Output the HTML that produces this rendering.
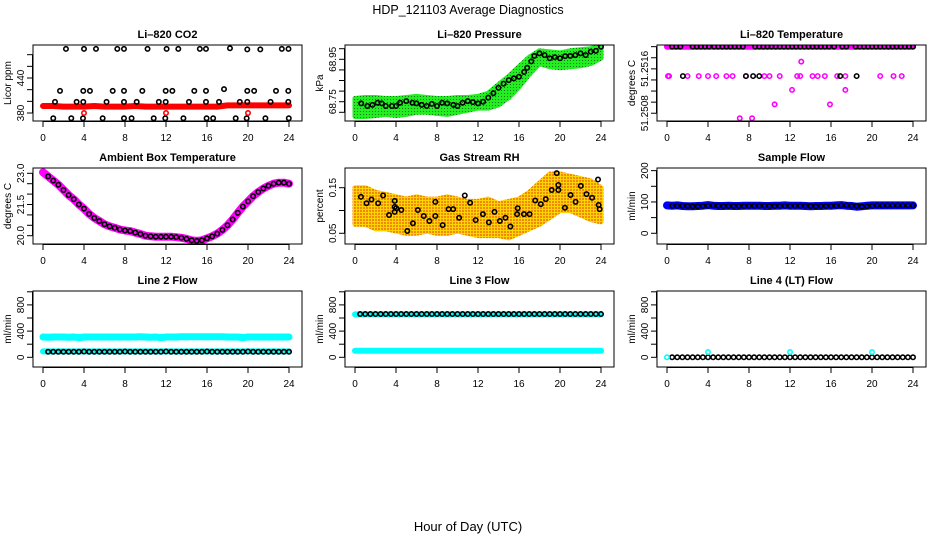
<!DOCTYPE html>
<html><head><meta charset="utf-8"><style>
html,body{margin:0;padding:0;background:#fff;}
svg{display:block;font-family:"Liberation Sans",sans-serif;}
</style></head><body>
<svg id="chart" width="936" height="540" xmlns="http://www.w3.org/2000/svg">
<defs>
<pattern id="rhPat" width="3" height="3" patternUnits="userSpaceOnUse"><rect width="3" height="3" fill="#ffd400"/><rect width="2" height="2" fill="#f08a00"/></pattern>
<pattern id="presPat" width="3" height="3" patternUnits="userSpaceOnUse"><rect width="3" height="3" fill="#22ee22"/><rect width="1" height="1" fill="#117711"/></pattern>
</defs>
<text x="468" y="14" text-anchor="middle" font-size="12.5">HDP_121103  Average Diagnostics</text>
<text x="468" y="531" text-anchor="middle" font-size="13">Hour of Day (UTC)</text>
</svg>
<script>
// ---- data ----
const xTicks = [0,4,8,12,16,20,24];
// CO2
const co2BlackHours = [2.24,4.0,5.17,7.25,7.9,10.2,12.06,13.2,15.3,15.9,18.24,19.93,21.2,23.3,23.95, 1.66,3.93,4.58,6.8,7.9,9.69,11.97,12.62,14.76,15.9,19.93,20.6,22.73,23.93, 1.17,3.28,3.93,6.2,7.9,9.14,11.3,11.97,14.24,15.9,17.17,19.2,19.93,22.2,23.93, 1.0,2.76,3.9,5.82,7.9,8.64,10.8,11.93,13.7,15.96,16.6,18.8,19.87,21.7,23.98,17.66];
const co2BlackValues = [490,490,490,490,490,490,490,490,490,490,491,489,489,490,490, 418,418,418,418,418,418,418,418,418,418,418,418,418,418, 399,399,399,399,399,399,399,399,399,399,399,399,399,399,399, 371,371,371,371,371,371,371,371,371,371,371,371,371,371,371,421];
const co2BandHours = [0,1,2,3,4,5,6,7,8,9,10,11,12,13,14,15,16,17,18,19,20,21,22,23,24];
const co2BandValues = [392,392,391,391,391,392,391,391,391,392,391,391,391,391,391,391,391,391,393,393,393,393,393,393,393];
const co2RedHours = [4,12,20];
const co2RedValues = [380,380,380];
// Pressure
const hourly = [0,1,2,3,4,5,6,7,8,9,10,11,12,13,14,15,16,17,18,19,20,21,22,23,24];
const presUpper = [68.765,68.77,68.77,68.765,68.765,68.77,68.775,68.77,68.765,68.765,68.77,68.77,68.775,68.79,68.83,68.87,68.915,68.96,68.99,68.985,68.98,68.99,68.995,69.0,69.015];
const presLower = [68.68,68.68,68.685,68.69,68.685,68.69,68.7,68.7,68.695,68.69,68.7,68.71,68.72,68.72,68.735,68.77,68.82,68.88,68.93,68.915,68.91,68.915,68.92,68.93,68.955];
const presBlackHours = [0.6,1.2,1.7,2.2,2.6,3.0,3.6,4.0,4.4,5.0,5.6,6.0,6.5,7.0,7.5,8.0,8.5,9.0,9.6,10.0,10.5,11.0,11.5,12.0,12.5,13.0,13.5,14.0,14.5,15.0,15.5,16.0,16.5,16.8,17.2,17.5,18.0,18.5,19.0,19.5,20.0,20.5,21.0,21.5,22.0,22.5,23.0,23.5,24.0];
const presBlackValues = [68.742,68.73,68.735,68.745,68.742,68.73,68.73,68.73,68.745,68.753,68.745,68.742,68.735,68.73,68.74,68.73,68.745,68.742,68.735,68.73,68.745,68.753,68.748,68.742,68.75,68.769,68.79,68.816,68.835,68.852,68.86,68.868,68.89,68.91,68.94,68.966,68.978,68.97,68.955,68.96,68.955,68.965,68.966,68.97,68.978,68.97,68.986,68.99,69.009];
// Li-820 temperature
const tempTopHours = [0.5,0.9,1.3,2.5,2.9,3.3,3.7,4.1,4.6,5.0,5.4,5.8,6.2,6.6,7.0,7.4,8.6,9.0,9.4,9.8,10.2,10.6,11.0,11.4,11.8,12.2,12.6,13.0,13.4,13.8,14.2,14.6,15.0,15.4,15.8,16.3,17.1,17.5,18.4,18.8,19.2,19.6,20.0,20.4,20.8,21.2,21.6,22.0,22.4,22.8,23.2,23.6,24.0];
const tempTopValues = [51.2520,51.2520,51.2520,51.2520,51.2520,51.2520,51.2520,51.2520,51.2520,51.2520,51.2520,51.2520,51.2520,51.2520,51.2520,51.2520,51.2520,51.2520,51.2520,51.2520,51.2520,51.2520,51.2520,51.2520,51.2520,51.2520,51.2520,51.2520,51.2520,51.2520,51.2520,51.2520,51.2520,51.2520,51.2520,51.2520,51.2520,51.2520,51.2520,51.2520,51.2520,51.2520,51.2520,51.2520,51.2520,51.2520,51.2520,51.2520,51.2520,51.2520,51.2520,51.2520,51.2520];
const tempBandHours = [0,24];
const tempBandValues = [51.2520,51.2520];
const tempMagHours = [0.1,0.2,2.0,3.1,4.0,4.8,5.8,6.4,7.7,9.5,10.0,11.0,12.7,13.0,14.2,14.7,15.4,16.6,17.4,20.8,22.1,22.9, 13.1,12.2,17.4,10.5,15.9,7.1,8.3];
const tempMagValues = [51.25147,51.25147,51.25147,51.25147,51.25147,51.25147,51.25147,51.25147,51.25147,51.25147,51.25147,51.25147,51.25147,51.25147,51.25147,51.25147,51.25147,51.25147,51.25147,51.25147,51.25147,51.25147, 51.25173,51.25122,51.25122,51.25096,51.25096,51.25071,51.25071];
const tempBlackHours = [1.55,7.7,8.4,9.0,16.9,18.5];
const tempBlackValues = [51.25147,51.25147,51.25147,51.25147,51.25147,51.25147];
// Ambient box temperature
const ambHours = [0,0.5,1,1.5,2,2.5,3,3.5,4,4.5,5,5.5,6,6.5,7,7.5,8,8.5,9,9.5,10,10.5,11,11.5,12,12.5,13,13.5,14,14.5,15,15.5,16,16.5,17,17.5,18,18.5,19,19.5,20,20.5,21,21.5,22,22.5,23,23.5,24];
const ambValues = [23.05,22.85,22.65,22.45,22.2,21.95,21.75,21.5,21.3,21.05,20.85,20.7,20.55,20.45,20.38,20.3,20.25,20.22,20.15,20.08,20.0,19.97,19.95,19.95,19.95,19.95,19.93,19.9,19.85,19.78,19.75,19.78,19.87,19.97,20.1,20.28,20.5,20.78,21.1,21.4,21.65,21.9,22.1,22.27,22.4,22.5,22.55,22.55,22.5];
// Gas stream RH
const rhUpper = [0.15,0.15,0.14,0.135,0.13,0.125,0.13,0.125,0.125,0.13,0.125,0.12,0.12,0.125,0.115,0.12,0.125,0.14,0.16,0.18,0.18,0.175,0.17,0.165,0.15];
const rhLower = [0.07,0.07,0.06,0.06,0.055,0.05,0.05,0.055,0.05,0.05,0.055,0.05,0.045,0.045,0.045,0.04,0.05,0.06,0.07,0.085,0.1,0.1,0.09,0.08,0.075];
const rhBlackHours = [0.58,1.13,1.61,2.26,2.74,3.32,3.87,3.87,3.87,4.03,4.52,5.1,5.65,6.13,6.71,7.26,7.84,7.84,8.55,9.13,9.58,10.16,10.71,11.23,11.77,12.48,13.06,13.61,14.13,14.68,15.16,15.81,15.87,16.48,17.03,17.58,18.13,18.61,19.19,19.68,19.84,19.84,20.48,21.03,21.52,22.03,22.58,23.13,23.71,23.77,23.87];
const rhBlackValues = [0.130,0.116,0.124,0.116,0.133,0.090,0.121,0.108,0.097,0.105,0.101,0.055,0.072,0.101,0.088,0.077,0.119,0.088,0.068,0.103,0.103,0.084,0.133,0.117,0.079,0.092,0.074,0.097,0.077,0.084,0.065,0.092,0.105,0.092,0.092,0.122,0.114,0.125,0.145,0.182,0.145,0.156,0.106,0.134,0.119,0.154,0.136,0.128,0.168,0.112,0.103];
// Flows
const flowHours = [0.5,1,1.5,2,2.5,3,3.5,4,4.5,5,5.5,6,6.5,7,7.5,8,8.5,9,9.5,10,10.5,11,11.5,12,12.5,13,13.5,14,14.5,15,15.5,16,16.5,17,17.5,18,18.5,19,19.5,20,20.5,21,21.5,22,22.5,23,23.5,24];
const sampleBand = [89,88,89,87,86,86,87,88,90,88,87,87,88,87,87,88,88,88,88,87,87,88,88,89,88,88,88,87,86,87,87,88,88,89,90,88,87,85,86,88,89,89,89,89,89,89,89,89,89];
const sampleBlack = [88,88,88,87,86,86,87,88,89,88,87,87,87,87,87,88,88,88,88,87,87,88,88,88,88,88,88,87,86,87,87,88,88,89,89,88,87,85,86,88,89,89,89,89,89,89,89,89];
const line2Upper = [310,305,310,310,310,305,310,300,310,310,310,310,310,310,310,310,310,310,310,315,310,305,310,300,310,310,310,315,315,315,315,315,315,315,315,315,310,310,310,300,310,310,310,310,310,310,310,310,310];
const line2Lower = [90,90,90,90,90,90,90,90,90,90,90,90,90,90,90,90,90,90,90,90,90,90,90,90,90,90,90,90,90,90,90,90,90,90,90,90,90,90,90,90,90,90,90,90,90,90,90,90,90];
const line2Black = [85,85,85,85,85,85,85,88,85,85,85,85,85,85,85,88,85,85,85,85,85,85,85,88,85,85,85,85,85,85,85,88,85,85,85,85,85,85,85,88,85,85,85,85,85,85,85,85];
const line3Upper = [655,655,655,655,655,655,655,655,655,655,655,655,655,655,655,655,655,655,655,655,655,655,655,655,655,655,655,655,655,655,655,655,655,655,655,655,655,655,655,655,655,655,655,655,655,655,655,655,655];
const line3Lower = [100,100,100,100,100,100,100,100,100,100,100,100,100,100,100,100,100,100,100,100,100,100,100,100,100,100,100,100,100,100,100,100,100,100,100,100,100,100,100,100,100,100,100,100,100,100,100,100,100];
const line3Black = [660,660,660,660,660,660,660,660,660,660,660,660,660,660,660,660,660,660,660,660,660,660,660,660,660,660,660,660,660,660,660,660,660,660,660,660,660,660,660,660,660,660,660,660,660,660,660,660];
const line4Black = [0,0,0,0,0,0,0,0,0,0,0,0,0,0,0,0,0,0,0,0,0,0,0,0,0,0,0,0,0,0,0,0,0,0,0,0,0,0,0,0,0,0,0,0,0,0,0,0];
const line4CyanHours = [0,4,12,20];
const line4CyanValues = [0,80,80,80];

// ---- drawing ----
const NS = "http://www.w3.org/2000/svg";
const svg = document.getElementById('chart');
function mk(tag, attrs, parent){
  const e = document.createElementNS(NS, tag);
  for (const k in attrs) e.setAttribute(k, attrs[k]);
  (parent||svg).appendChild(e);
  return e;
}
function panel(c, r, o){
  const g = mk('g', {});
  
  
  const bx0 = 33 + 312*c, bx1 = 302 + 312*c, by0 = 45 + 123*r, by1 = 121 + 123*r;
  const xs = h => 43 + 312*c + h*10.25;
  const ys = v => by1 - (v - o.ymin)/(o.ymax - o.ymin)*76;
  const t = mk('text', {x:(bx0+bx1)/2, y:by0-7, 'text-anchor':'middle', 'font-size':11, 'font-weight':'bold'}, g);
  t.textContent = o.title;
  
  
  const yl = mk('text', {x:0, y:0, transform:`translate(${11+312*c},${(by0+by1)/2}) rotate(-90)`, 'text-anchor':'middle', 'font-size':10}, g);
  yl.textContent = o.ylab;
  
  
  const ax = mk('g', {stroke:'#000', 'stroke-width':1}, g);
  
  
  mk('line', {x1:xs(0), x2:xs(24), y1:by1+0.5, y2:by1+0.5}, ax);
  xTicks.forEach(h => {
    mk('line', {x1:xs(h), x2:xs(h), y1:by1, y2:by1+6}, ax);
    const tl = mk('text', {x:xs(h), y:by1+20, 'text-anchor':'middle', 'font-size':10, stroke:'none', fill:'#000'}, ax);
    tl.textContent = h;
    
    
  });
  const ay = mk('g', {stroke:'#000', 'stroke-width':1}, g);
  
  
  const yt = o.yticks;
  mk('line', {x1:bx0-0.5, x2:bx0-0.5, y1:ys(yt[0]), y2:ys(yt[yt.length-1])}, ay);
  yt.forEach(v => mk('line', {x1:bx0-6, x2:bx0, y1:ys(v), y2:ys(v)}, ay));
  o.ylabels.forEach(v => {
    const tl = mk('text', {x:0, y:0, transform:`translate(${bx0-9},${ys(v)}) rotate(-90)`, 'text-anchor':'middle', 'font-size':10, stroke:'none', fill:'#000'}, ay);
    tl.textContent = v;
    
    
  });
  const cid = 'clip' + c + r;
  const cp = mk('clipPath', {id:cid}, g);
  mk('rect', {x:bx0, y:by0, width:bx1-bx0, height:by1-by0}, cp);
  const plot = mk('g', {'clip-path':`url(#${cid})`}, g);
  o.draw(plot, xs, ys);
  const box = mk('rect', {x:bx0, y:by0, width:bx1-bx0, height:by1-by0, fill:'none', stroke:'#000', 'stroke-width':1}, g);
  
  
}
function band(p, xs, ys, hours, vals, color, w, name){
  const pts = hours.map((h,i) => xs(h).toFixed(1)+','+ys(vals[i]).toFixed(1)).join(' ');
  const l = mk('polyline', {points:pts, fill:'none', stroke:color, 'stroke-width':w, 'stroke-linejoin':'round', 'stroke-linecap':'round'}, p);
  
  
}
function area(p, xs, ys, hours, lo, hi, color, name){
  const top = hours.map((h,i) => xs(h).toFixed(1)+','+ys(hi[i]).toFixed(1));
  const bot = hours.map((h,i) => xs(h).toFixed(1)+','+ys(lo[i]).toFixed(1)).reverse();
  const a = mk('polygon', {points:top.concat(bot).join(' '), fill:color, stroke:color, 'stroke-width':5, 'stroke-linejoin':'round'}, p);
  
  
}
function pts(p, xs, ys, hours, vals, color, name, r){
  hours.forEach((h,i) => {
    const e = mk('circle', {cx:xs(h), cy:ys(vals[i]), r:r||2.2, fill:'none', stroke:color, 'stroke-width':1.6}, p);
    
    
  });
}

panel(0,0,{name:'co2', title:'Li\u2013820 CO2', ylab:'Licor ppm', ymin:366.3, ymax:496.6,
  yticks:[380,400,420,440,460,480], ylabels:[380,440],
  draw:(p,xs,ys)=>{ band(p,xs,ys,co2BandHours,co2BandValues,'#ff0000',6,'co2-band');
    pts(p,xs,ys,co2BlackHours,co2BlackValues,'#000','co2-point');
    pts(p,xs,ys,co2RedHours,co2RedValues,'#ff0000','co2-red-point'); }});
panel(1,0,{name:'pressure', title:'Li\u2013820 Pressure', ylab:'kPa', ymin:68.659, ymax:69.0175,
  yticks:[68.70,68.75,68.80,68.85,68.90,68.95,69.00], ylabels:['68.75','68.95'],
  draw:(p,xs,ys)=>{ area(p,xs,ys,hourly,presLower,presUpper,'url(#presPat)','pressure-band');
    pts(p,xs,ys,presBlackHours,presBlackValues,'#000','pressure-point'); }});
panel(2,0,{name:'li820-temp', title:'Li\u2013820 Temperature', ylab:'degrees C', ymin:51.25066, ymax:51.25203,
  yticks:[51.2508,51.2510,51.2512,51.2514,51.2516,51.2518,51.2520], ylabels:['51.2508','51.2516'],
  draw:(p,xs,ys)=>{ band(p,xs,ys,tempBandHours,tempBandValues,'#ff00ff',6,'temp-band');
    pts(p,xs,ys,tempMagHours,tempMagValues,'#ff00ff','temp-magenta-point');
    pts(p,xs,ys,tempTopHours,tempTopValues,'#000','temp-point');
    pts(p,xs,ys,tempBlackHours,tempBlackValues,'#000','temp-point'); }});
panel(0,1,{name:'ambient', title:'Ambient Box Temperature', ylab:'degrees C', ymin:19.601, ymax:23.255,
  yticks:[20,20.5,21,21.5,22,22.5,23], ylabels:['20.0','21.5','23.0'],
  draw:(p,xs,ys)=>{ band(p,xs,ys,ambHours,ambValues,'#ff00ff',8,'ambient-band');
    pts(p,xs,ys,ambHours.slice(1),ambValues.slice(1),'#000','ambient-point'); }});
panel(1,1,{name:'rh', title:'Gas Stream RH', ylab:'percent', ymin:0.0265, ymax:0.1932,
  yticks:[0.05,0.10,0.15], ylabels:['0.05','0.15'],
  draw:(p,xs,ys)=>{ area(p,xs,ys,hourly,rhLower,rhUpper,'url(#rhPat)','rh-band');
    pts(p,xs,ys,rhBlackHours,rhBlackValues,'#000','rh-point'); }});
panel(2,1,{name:'sample-flow', title:'Sample Flow', ylab:'ml/min', ymin:-34.2, ymax:208.4,
  yticks:[0,50,100,150,200], ylabels:[0,100,200],
  draw:(p,xs,ys)=>{ band(p,xs,ys,[0].concat(flowHours),sampleBand,'#0000ff',8,'sample-band');
    pts(p,xs,ys,flowHours,sampleBlack,'#000','sample-point'); }});
panel(0,2,{name:'line2', title:'Line 2 Flow', ylab:'ml/min', ymin:-148, ymax:1012,
  yticks:[0,200,400,600,800,1000], ylabels:[0,400,800],
  draw:(p,xs,ys)=>{ band(p,xs,ys,[0].concat(flowHours),line2Upper,'#00ffff',7,'line2-upper-band');
    band(p,xs,ys,[0].concat(flowHours),line2Lower,'#00ffff',6,'line2-lower-band');
    pts(p,xs,ys,flowHours,line2Black,'#000','line2-point'); }});
panel(1,2,{name:'line3', title:'Line 3 Flow', ylab:'ml/min', ymin:-148, ymax:1012,
  yticks:[0,200,400,600,800,1000], ylabels:[0,400,800],
  draw:(p,xs,ys)=>{ band(p,xs,ys,[0].concat(flowHours),line3Upper,'#00ffff',6,'line3-upper-band');
    band(p,xs,ys,[0].concat(flowHours),line3Lower,'#00ffff',6,'line3-lower-band');
    pts(p,xs,ys,flowHours,line3Black,'#000','line3-point'); }});
panel(2,2,{name:'line4', title:'Line 4 (LT) Flow', ylab:'ml/min', ymin:-148, ymax:1012,
  yticks:[0,200,400,600,800,1000], ylabels:[0,400,800],
  draw:(p,xs,ys)=>{ pts(p,xs,ys,flowHours,line4Black,'#000','line4-point');
    pts(p,xs,ys,line4CyanHours,line4CyanValues,'#00ffff','line4-cyan-point'); }});
</script>
</body></html>
